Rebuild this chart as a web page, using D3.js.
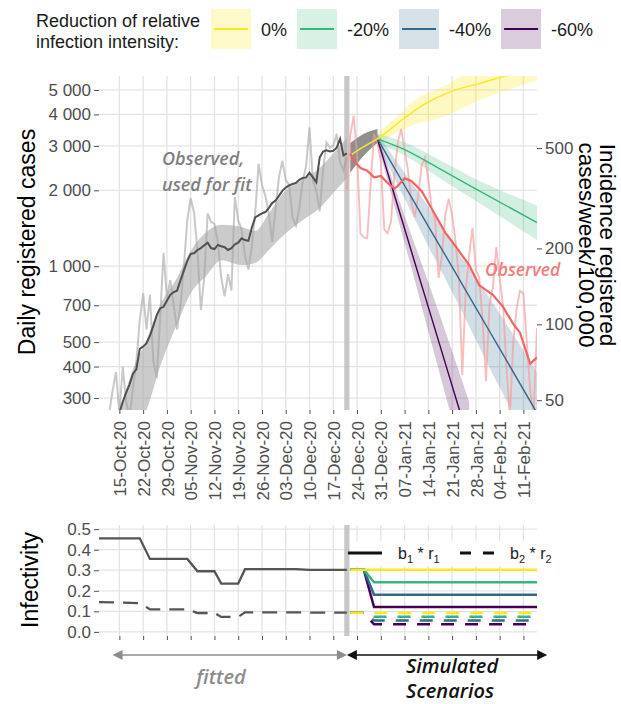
<!DOCTYPE html>
<html>
<head>
<meta charset="utf-8">
<script src="https://cdn.jsdelivr.net/npm/d3@7"></script>
<style>
  body { margin: 0; background: #fff; }
  svg text { font-family: "Liberation Sans", Arial, sans-serif; }
  .axis path.domain { display: none; }
  .axis line { stroke: #4d4d4d; }
  .axis text { fill: #4d4d4d; font-size: 17px; font-family: "Liberation Sans", Arial, sans-serif; }
  .note { font-family: "Open Sans", sans-serif; font-style: italic; font-weight: 600; }
</style>
</head>
<body>
<svg id="chart" width="621" height="704"></svg>
<script>
// tick labels
const weekTicks = ["2020-10-15", "2020-10-22", "2020-10-29", "2020-11-05", "2020-11-12", "2020-11-19",
  "2020-11-26", "2020-12-03", "2020-12-10", "2020-12-17", "2020-12-24", "2020-12-31",
  "2021-01-07", "2021-01-14", "2021-01-21", "2021-01-28", "2021-02-04", "2021-02-11"]
const caseTicks = [300, 400, 500, 700, 1000, 2000, 3000, 4000, 5000]
const incidenceTicks = [50, 100, 200, 500]
const infectivityTicks = [0, 0.1, 0.2, 0.3, 0.4, 0.5]

// observed daily cases used for fit (grey), one value per day
const obsStart = "2020-10-10"
const obsDaily = [230, 200, 260, 320, 380, 260, 400, 290, 250, 330, 420, 610, 780, 560, 770, 420, 360,
  620, 1130, 750, 880, 700, 560, 700, 1000, 1520, 1860, 1630, 1150, 670, 900, 1620, 1500, 1470,
  1250, 900, 760, 930, 800, 1880, 1520, 1400, 1100, 970, 1200, 1620, 2550, 2100, 1900, 1620,
  1250, 1700, 2250, 2620, 2200, 2100, 1560, 1450, 1700, 2180, 2500, 3550, 2180, 2000, 1650,
  2400, 3100, 2950, 3000, 3350, 2600, 2400, 2700]
// 7-day average of the same, one value per day
const avgStart = "2020-10-12"
const obsAvg = [200, 220, 240, 262, 290, 315, 340, 375, 390, 470, 480, 495, 530, 580, 640, 680, 690,
  730, 770, 790, 800, 880, 960, 1050, 1120, 1125, 1160, 1180, 1210, 1240, 1180, 1170, 1215,
  1200, 1190, 1160, 1180, 1220, 1240, 1290, 1270, 1260, 1420, 1560, 1590, 1620, 1640, 1700,
  1780, 1820, 1900, 1990, 2050, 2090, 2120, 2140, 2200, 2240, 2250, 2350, 2250, 2150, 2700,
  2850, 2880, 2850, 2870, 2950, 3200, 2750, 2800]

// model fit band
const fitDates = ["2020-10-10", "2020-10-15", "2020-10-19", "2020-10-23", "2020-10-27", "2020-11-01",
  "2020-11-05", "2020-11-10", "2020-11-14", "2020-11-20", "2020-11-24", "2020-11-28",
  "2020-12-03", "2020-12-08", "2020-12-13", "2020-12-17", "2020-12-21"]
const fitLow = [120, 170, 215, 269, 400, 590, 780, 930, 1055, 1010, 1030, 1160, 1350, 1520, 1700, 1950, 2240]
const fitHigh = [200, 269, 390, 510, 700, 900, 1150, 1380, 1460, 1430, 1380, 1620, 2000, 2200, 2450, 2800, 3230]

// common forecast before the scenarios split
const preDates = ["2020-12-22", "2020-12-26", "2020-12-30"]
const preLow = [2350, 2750, 3080]
const preHigh = [3080, 3350, 3500]

// scenarios
const scenarioNames = ["0%", "-20%", "-40%", "-60%"]
const scenarioColors = ["#fde725", "#35b779", "#31688e", "#440154"]

const zeroDates = ["2020-12-22", "2020-12-26", "2020-12-30", "2021-01-07", "2021-01-13", "2021-01-21", "2021-01-29", "2021-02-05", "2021-02-15"]
const zeroCases = [2750, 2980, 3200, 3870, 4400, 4950, 5300, 5650, 6100]
const zeroBandDates = ["2020-12-30", "2021-01-05", "2021-01-10", "2021-01-17", "2021-01-29", "2021-02-15"]
const zeroLow = [3050, 3400, 3650, 3850, 4550, 5450]
const zeroHigh = [3350, 3950, 4550, 5050, 6200, 7500]

const minus20Dates = ["2020-12-30", "2021-01-07", "2021-01-17", "2021-01-27", "2021-02-15"]
const minus20Cases = [3200, 2900, 2450, 2060, 1490]
const minus20Low = [3050, 2750, 2250, 1850, 1270]
const minus20High = [3350, 3100, 2650, 2250, 1740]

const minus40Dates = ["2020-12-30", "2021-01-07", "2021-01-14", "2021-01-21", "2021-01-28", "2021-02-04", "2021-02-15"]
const minus40Cases = [3200, 2090, 1440, 994, 684, 471, 262]
const minus40Low = [3050, 1850, 1200, 790, 510, 330, 175]
const minus40High = [3350, 2350, 1720, 1230, 900, 650, 380]

const minus60Dates = ["2020-12-30", "2021-01-05", "2021-01-10", "2021-01-15", "2021-01-22", "2021-01-26"]
const minus60Cases = [3200, 1730, 1035, 621, 303, 201]
const minus60Low = [3050, 1550, 880, 490, 220, 140]
const minus60High = [3350, 1900, 1220, 790, 420, 290]

// observed after the fit (red)
const redStart = "2020-12-21"
const redDaily = [2000, 3300, 3950, 2800, 1350, 1300, 1290, 2100, 3350, 3100, 2600, 1400, 1350, 1500,
  2300, 3100, 3500, 2900, 2400, 1800, 1570, 1900, 2500, 2700, 2200, 1700, 1520, 900, 1100,
  1600, 1850, 1600, 1260, 900, 370, 800, 1100, 1420, 965, 900, 600, 350, 700, 825, 1190, 900,
  700, 400, 250, 500, 680, 800, 780, 500, 320, 260, 570]
const redAvgDates = ["2020-12-22", "2020-12-23", "2020-12-25", "2020-12-27", "2020-12-29", "2020-12-31",
  "2021-01-02", "2021-01-04", "2021-01-05", "2021-01-07", "2021-01-09", "2021-01-12", "2021-01-15",
  "2021-01-19", "2021-01-22", "2021-01-26", "2021-01-29", "2021-02-02", "2021-02-05", "2021-02-08",
  "2021-02-10", "2021-02-12", "2021-02-13", "2021-02-15"]
const redAvg = [2790, 2620, 2450, 2390, 2250, 2280, 2140, 2030, 2080, 2230, 2180, 1990, 1690, 1360,
  1200, 1010, 840, 770, 690, 590, 545, 450, 410, 435]

// infectivity, fitted part
const fitInfDates = ["2020-10-09", "2020-10-21", "2020-10-24", "2020-11-04", "2020-11-07", "2020-11-12",
  "2020-11-14", "2020-11-19", "2020-11-21", "2020-12-06", "2020-12-10", "2020-12-21"]
const b1Fit = [0.455, 0.455, 0.355, 0.355, 0.295, 0.295, 0.235, 0.235, 0.305, 0.305, 0.302, 0.302]
const b2Fit = [0.145, 0.140, 0.110, 0.110, 0.092, 0.092, 0.073, 0.073, 0.095, 0.095, 0.094, 0.094]

// infectivity, simulated part
const scenInfDates = ["2020-12-22", "2020-12-26", "2020-12-29", "2021-02-15"]
const b1Scen = [
  [0.302, 0.302, 0.302, 0.302],
  [0.302, 0.302, 0.241, 0.241],
  [0.302, 0.302, 0.181, 0.181],
  [0.302, 0.302, 0.121, 0.121]
]
const b2Scen = [
  [0.093, 0.093, 0.093, 0.093],
  [0.093, 0.093, 0.074, 0.074],
  [0.093, 0.093, 0.056, 0.056],
  [0.093, 0.093, 0.037, 0.037]
]

const bandDate = "2020-12-21"
const fittedArrow = ["2020-10-13", "2020-12-21"]
const simulatedArrow = ["2020-12-21", "2021-02-18"]
const perWeekPer100k = 0.17

// ------------------------------------------------------------
const parse = d3.timeParse("%Y-%m-%d")
const svg = d3.select("#chart")

const x = d3.scaleTime().domain([parse("2020-10-09"), parse("2021-02-15")]).range([99, 537])
const y = d3.scaleLog().domain([269, 5680]).range([410, 76])
const yInc = d3.scaleLog().domain(y.domain().map(d => d * perWeekPer100k)).range(y.range())
const yInf = d3.scaleLinear().domain([-0.02, 0.52]).range([636, 525])

const topP = {y0: 76, y1: 410}
const botP = {y0: 525, y1: 636}

function daily (start, values) {
  return values.map((v, i) => ({date: d3.timeDay.offset(parse(start), i), v: v}))
}
function pts (dates, values) {
  return dates.map((d, i) => ({date: parse(d), v: values[i]}))
}
function band (dates, lo, hi) {
  return dates.map((d, i) => ({date: parse(d), lo: lo[i], hi: hi[i]}))
}

var defs = svg.append("defs")
defs.append("clipPath").attr("id", "clipTop").append("rect")
  .attr("x", 99).attr("y", topP.y0).attr("width", 438).attr("height", topP.y1 - topP.y0)
defs.append("clipPath").attr("id", "clipBot").append("rect")
  .attr("x", 99).attr("y", botP.y0).attr("width", 438).attr("height", botP.y1 - botP.y0)

// gridlines
var grid = svg.append("g").attr("stroke", "#e3e3e3").attr("stroke-width", 1.3)
weekTicks.forEach(function (t) {
  grid.append("line").attr("x1", x(parse(t))).attr("x2", x(parse(t))).attr("y1", topP.y0).attr("y2", topP.y1)
  grid.append("line").attr("x1", x(parse(t))).attr("x2", x(parse(t))).attr("y1", botP.y0).attr("y2", botP.y1)
})
caseTicks.forEach(function (t) {
  grid.append("line").attr("x1", 99).attr("x2", 537).attr("y1", y(t)).attr("y2", y(t))
})
infectivityTicks.forEach(function (t) {
  grid.append("line").attr("x1", 99).attr("x2", 537).attr("y1", yInf(t)).attr("y2", yInf(t))
})

// ---------------- top panel ----------------
var gTop = svg.append("g").attr("clip-path", "url(#clipTop)")
var line = d3.line().x(d => x(d.date)).y(d => y(d.v))
var smooth = d3.line().x(d => x(d.date)).y(d => y(d.v)).curve(d3.curveMonotoneX)
var area = d3.area().x(d => x(d.date)).y0(d => y(d.lo)).y1(d => y(d.hi)).curve(d3.curveMonotoneX)

// vertical band marking end of fit
var bx = x(parse(bandDate))
gTop.append("rect").attr("x", bx - 2.6).attr("width", 5.2).attr("y", topP.y0).attr("height", topP.y1 - topP.y0)
  .attr("fill", "#bdbdbd").attr("opacity", 0.85)

gTop.append("path").datum(band(fitDates, fitLow, fitHigh)).attr("d", area)
  .attr("fill", "#a9a9a9").attr("opacity", 0.6)
gTop.append("path").datum(daily(obsStart, obsDaily)).attr("d", line)
  .attr("fill", "none").attr("stroke", "#a3a3a3").attr("stroke-width", 2).attr("opacity", 0.6)
gTop.append("path").datum(daily(avgStart, obsAvg)).attr("d", line)
  .attr("fill", "none").attr("stroke", "#505050").attr("stroke-width", 2)

gTop.append("path").datum(band(preDates, preLow, preHigh)).attr("d", area)
  .attr("fill", "#7c7c7c").attr("opacity", 0.85)

var scenarios = [
  {line: pts(zeroDates, zeroCases), band: band(zeroBandDates, zeroLow, zeroHigh)},
  {line: pts(minus20Dates, minus20Cases), band: band(minus20Dates, minus20Low, minus20High)},
  {line: pts(minus40Dates, minus40Cases), band: band(minus40Dates, minus40Low, minus40High)},
  {line: pts(minus60Dates, minus60Cases), band: band(minus60Dates, minus60Low, minus60High)}
]
scenarios.forEach(function (s, i) {
  gTop.append("path").datum(s.band).attr("d", area)
    .attr("fill", scenarioColors[i]).attr("opacity", i === 0 ? 0.28 : 0.22)
})

gTop.append("path").datum(daily(redStart, redDaily)).attr("d", line)
  .attr("fill", "none").attr("stroke", "#f59a9a").attr("stroke-width", 1.9).attr("opacity", 0.65)

// draw -60% first so the 0% line sits on top before the split
for (let i = scenarios.length - 1; i >= 0; i--) {
  gTop.append("path").datum(scenarios[i].line).attr("d", smooth)
    .attr("fill", "none").attr("stroke", scenarioColors[i]).attr("stroke-width", 1.4)
}

gTop.append("path").datum(pts(redAvgDates, redAvg)).attr("d", line)
  .attr("fill", "none").attr("stroke", "#f06464").attr("stroke-width", 2.2)

// axes top
var fmtCases = d => d3.format(",")(d).replace(/,/g, " ")
svg.append("g").attr("class", "axis").attr("transform", "translate(99,0)")
  .call(d3.axisLeft(y).tickValues(caseTicks).tickFormat(fmtCases).tickSize(5).tickPadding(3))
svg.append("g").attr("class", "axis").attr("transform", "translate(537,0)")
  .call(d3.axisRight(yInc).tickValues(incidenceTicks).tickFormat(d3.format("d")).tickSize(5).tickPadding(3))
svg.append("g").attr("class", "axis").attr("transform", "translate(0,410)")
  .call(d3.axisBottom(x).tickValues(weekTicks.map(parse)).tickFormat(d3.timeFormat("%d-%b-%y")).tickSize(4))
  .selectAll("text")
    .attr("transform", "rotate(-90)")
    .attr("x", -11).attr("y", 0).attr("dy", "0.36em")
    .style("text-anchor", "end")

svg.append("text").attr("transform", "translate(35,242) rotate(-90)")
  .attr("text-anchor", "middle").attr("font-size", 23).attr("fill", "#000")
  .text("Daily registered cases")
svg.append("text").attr("transform", "translate(600,245) rotate(90)")
  .attr("text-anchor", "middle").attr("font-size", 22.5).attr("fill", "#000")
  .text("Incidence registered")
svg.append("text").attr("transform", "translate(579,245) rotate(90)")
  .attr("text-anchor", "middle").attr("font-size", 22.5).attr("fill", "#000")
  .text("cases/week/100,000")

// annotations
svg.append("text").attr("class", "note").attr("x", 162).attr("y", 165)
  .attr("font-size", 18).attr("fill", "#7f7f7f").text("Observed,")
svg.append("text").attr("class", "note").attr("x", 162).attr("y", 191)
  .attr("font-size", 18).attr("fill", "#7f7f7f").text("used for fit")
svg.append("text").attr("class", "note").attr("x", 485).attr("y", 276)
  .attr("font-size", 17.5).attr("fill", "#f27c7c").text("Observed")

// ---------------- legend ----------------
var leg = svg.append("g")
leg.append("text").attr("x", 36).attr("y", 27).attr("font-size", 18).attr("fill", "#1a1a1a").text("Reduction of relative")
leg.append("text").attr("x", 36).attr("y", 48).attr("font-size", 18).attr("fill", "#1a1a1a").text("infection intensity:")
var lx = 211
scenarioNames.forEach(function (name, i) {
  leg.append("rect").attr("x", lx).attr("y", 9).attr("width", 40).attr("height", 40)
    .attr("fill", scenarioColors[i]).attr("opacity", i === 0 ? 0.25 : 0.2)
  leg.append("line").attr("x1", lx + 3).attr("x2", lx + 37).attr("y1", 29).attr("y2", 29)
    .attr("stroke", scenarioColors[i]).attr("stroke-width", 1.8)
  var t = leg.append("text").attr("x", lx + 50).attr("y", 36).attr("font-size", 18).attr("fill", "#1a1a1a").text(name)
  lx = lx + 50 + t.node().getComputedTextLength() + 10
})

// ---------------- bottom panel ----------------
var gBot = svg.append("g").attr("clip-path", "url(#clipBot)")
gBot.append("rect").attr("x", bx - 2.6).attr("width", 5.2).attr("y", botP.y0).attr("height", botP.y1 - botP.y0 + 2)
  .attr("fill", "#bdbdbd").attr("opacity", 0.85)

var infLine = d3.line().x(d => x(d.date)).y(d => yInf(d.v))
gBot.append("path").datum(pts(fitInfDates, b1Fit)).attr("d", infLine)
  .attr("fill", "none").attr("stroke", "#555").attr("stroke-width", 2.3)
gBot.append("path").datum(pts(fitInfDates, b2Fit)).attr("d", infLine)
  .attr("fill", "none").attr("stroke", "#555").attr("stroke-width", 2.3).attr("stroke-dasharray", "15,9")

for (let i = scenarioColors.length - 1; i >= 0; i--) {
  gBot.append("path").datum(pts(scenInfDates, b2Scen[i])).attr("d", infLine)
    .attr("fill", "none").attr("stroke", scenarioColors[i]).attr("stroke-width", 2.5)
    .attr("stroke-dasharray", "13,11")
}
for (let i = scenarioColors.length - 1; i >= 0; i--) {
  gBot.append("path").datum(pts(scenInfDates, b1Scen[i])).attr("d", infLine)
    .attr("fill", "none").attr("stroke", scenarioColors[i]).attr("stroke-width", 2.5)
}

// legend inside bottom panel
var bl = svg.append("g")
bl.append("rect").attr("x", bx + 3).attr("y", 541).attr("width", 537 - bx - 3).attr("height", 25).attr("fill", "#fff")
bl.append("line").attr("x1", 348).attr("x2", 382).attr("y1", 553).attr("y2", 553)
  .attr("stroke", "#111").attr("stroke-width", 3)
bl.append("line").attr("x1", 460).attr("x2", 494).attr("y1", 553).attr("y2", 553)
  .attr("stroke", "#111").attr("stroke-width", 3).attr("stroke-dasharray", "11,12")
function subLabel (xPos, b, r) {
  var t = bl.append("text").attr("x", xPos).attr("y", 559).attr("font-size", 16).attr("fill", "#1a1a1a")
  t.append("tspan").text("b")
  t.append("tspan").attr("dy", 4).attr("font-size", 11).text(b)
  t.append("tspan").attr("dy", -4).text(" * r")
  t.append("tspan").attr("dy", 4).attr("font-size", 11).text(r)
}
subLabel(398, "1", "1")
subLabel(510, "2", "2")

// axes bottom
svg.append("g").attr("class", "axis").attr("transform", "translate(99,0)")
  .call(d3.axisLeft(yInf).tickValues(infectivityTicks).tickFormat(d3.format(".1f")).tickSize(5).tickPadding(3))
svg.append("g").attr("class", "axis").attr("transform", "translate(0,636)")
  .call(d3.axisBottom(x).tickValues(weekTicks.map(parse)).tickFormat("").tickSize(4))

svg.append("text").attr("transform", "translate(38,580) rotate(-90)")
  .attr("text-anchor", "middle").attr("font-size", 23).attr("fill", "#000")
  .text("Infectivity")

// arrows under the panel
function arrow (dates, color) {
  var x1 = x(parse(dates[0])), x2 = x(parse(dates[1])), yy = 655
  svg.append("line").attr("x1", x1 + 6).attr("x2", x2 - 6).attr("y1", yy).attr("y2", yy)
    .attr("stroke", color).attr("stroke-width", 1.6)
  svg.append("path").attr("d", `M${x1},${yy}L${x1 + 10},${yy - 5}L${x1 + 10},${yy + 5}Z`).attr("fill", color)
  svg.append("path").attr("d", `M${x2},${yy}L${x2 - 10},${yy - 5}L${x2 - 10},${yy + 5}Z`).attr("fill", color)
}
arrow(fittedArrow, "#8c8c8c")
arrow(simulatedArrow, "#111")

svg.append("text").attr("class", "note").attr("x", 221).attr("y", 684).attr("text-anchor", "middle")
  .attr("font-size", 20).attr("fill", "#8c8c8c").text("fitted")
svg.append("text").attr("class", "note").attr("x", 452).attr("y", 673).attr("text-anchor", "middle")
  .attr("font-size", 20).attr("fill", "#111").text("Simulated")
svg.append("text").attr("class", "note").attr("x", 450).attr("y", 698).attr("text-anchor", "middle")
  .attr("font-size", 20).attr("fill", "#111").text("Scenarios")
</script>
</body>
</html>
